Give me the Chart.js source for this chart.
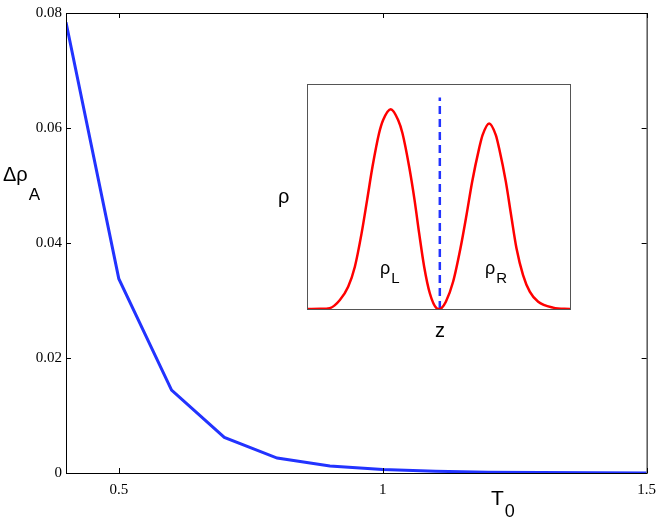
<!DOCTYPE html>
<html>
<head>
<meta charset="utf-8">
<script src="https://cdn.jsdelivr.net/npm/chart.js@4/dist/chart.umd.min.js"></script>
<style>
    html, body { margin: 0; padding: 0; background: #fff; }
    #wrap { position: relative; width: 664px; height: 525px; }
    #mainChart { position: absolute; left: 0; top: 0; }
    #insetChart { position: absolute; left: 260px; top: 78px; }
</style>
</head>
<body>
<div id="wrap">
    <canvas id="mainChart" width="664" height="525"></canvas>
    <canvas id="insetChart" width="320" height="270"></canvas>
</div>
<script>
// --- DATA ---
const temps = [0.4, 0.5, 0.6, 0.7, 0.8, 0.9, 1.0, 1.1, 1.2, 1.3, 1.4, 1.5];
const deltaRho = [0.0784, 0.0338, 0.0144, 0.0062, 0.0026, 0.0012, 0.0006, 0.0003, 0.00015, 0.00008, 0.00004, 0.00002];
const xTicks = [0.5, 1, 1.5];
const yTicks = [0, 0.02, 0.04, 0.06, 0.08];

// inset: density profile rho(z), arbitrary units
const insetZ = [-10.1, -9.1, -8.37, -7.6, -6.97, -6.46, -5.95, -5.53, -5.12, -4.62, -4.31, -3.73, -3.17, -2.84, -2.33, -1.92, -1.57, -1.19, -0.76, -0.25, 0,
                0.13, 0.46, 1.01, 1.57, 2.03, 2.46, 2.99, 3.25, 3.75, 4.26, 4.51, 5.02, 5.42, 5.83, 6.33, 6.84, 7.48, 8.62, 9.9];
const insetRho = [0, 0.001, 0.004, 0.04, 0.099, 0.188, 0.336, 0.484, 0.632, 0.781, 0.84, 0.888, 0.84, 0.781, 0.632, 0.484, 0.336, 0.188, 0.07, 0.004, 0,
                  0.004, 0.032, 0.121, 0.27, 0.418, 0.566, 0.714, 0.773, 0.825, 0.773, 0.714, 0.566, 0.418, 0.27, 0.151, 0.077, 0.032, 0.006, 0];
const splitZ = [0, 0];
const splitRho = [0, 0.94];

// --- HELPERS ---
const serif = '"Liberation Serif", "DejaVu Serif", serif';
const sans = '"Liberation Sans", Arial, sans-serif';

const drawSub = (ctx, x, y, main, sub, size, subSize, dy) => {
    ctx.font = `${size}px ${sans}`;
    ctx.fillText(main, x, y);
    const w = ctx.measureText(main).width;
    ctx.font = `${subSize}px ${sans}`;
    ctx.fillText(sub, x + w + 1, y + dy);
};

const frameTicks = {
    id: 'frameTicks',
    afterDraw(chart) {
        const { ctx, chartArea: a, scales } = chart;
        ctx.save();
        ctx.strokeStyle = '#000';
        ctx.lineWidth = 1;
        ctx.strokeRect(a.left + 0.5, a.top + 0.5, a.right - a.left, a.bottom - a.top);
        ctx.beginPath();
        xTicks.forEach(v => {
            const px = Math.round(scales.x.getPixelForValue(v)) + 0.5;
            ctx.moveTo(px, a.bottom); ctx.lineTo(px, a.bottom - 5);
            ctx.moveTo(px, a.top); ctx.lineTo(px, a.top + 5);
        });
        yTicks.forEach(v => {
            const py = Math.round(scales.y.getPixelForValue(v)) + 0.5;
            ctx.moveTo(a.left, py); ctx.lineTo(a.left + 5, py);
            ctx.moveTo(a.right, py); ctx.lineTo(a.right - 5, py);
        });
        ctx.stroke();

        ctx.fillStyle = '#000';
        ctx.textBaseline = 'alphabetic';
        drawSub(ctx, 3, 181, '\u0394\u03c1', 'A', 20, 17, 19);
        drawSub(ctx, 491, 505, 'T', '0', 21, 18, 12);
        ctx.restore();
    }
};

const insetDecor = {
    id: 'insetDecor',
    beforeDraw(chart) {
        const { ctx, chartArea: a } = chart;
        ctx.save();
        ctx.fillStyle = '#fff';
        ctx.fillRect(a.left, a.top, a.right - a.left, a.bottom - a.top);
        ctx.restore();
    },
    afterDraw(chart) {
        const { ctx, chartArea: a } = chart;
        ctx.save();
        ctx.strokeStyle = '#555';
        ctx.lineWidth = 1;
        ctx.strokeRect(a.left + 0.5, a.top + 0.5, a.right - a.left, a.bottom - a.top);
        ctx.fillStyle = '#000';
        ctx.font = `20px ${sans}`;
        ctx.fillText('\u03c1', 18, 125);
        drawSub(ctx, 120, 196, '\u03c1', 'L', 18, 15, 9);
        drawSub(ctx, 225, 196, '\u03c1', 'R', 18, 15, 9);
        ctx.font = `20px ${sans}`;
        ctx.textAlign = 'center';
        ctx.fillText('z', 180, 259);
        ctx.restore();
    }
};

// --- MAIN CHART ---
new Chart(document.getElementById('mainChart'), {
    type: 'line',
    data: {
        datasets: [{
            data: temps.map((t, i) => ({ x: t, y: deltaRho[i] })),
            borderColor: '#2233ff',
            borderWidth: 3,
            pointRadius: 0,
            tension: 0,
            fill: false
        }]
    },
    options: {
        responsive: false,
        animation: false,
        layout: { padding: { left: 0, right: 14, top: 13, bottom: 0 } },
        plugins: { legend: { display: false }, tooltip: { enabled: false } },
        scales: {
            x: {
                type: 'linear', min: 0.4, max: 1.5,
                afterBuildTicks: s => { s.ticks = xTicks.map(v => ({ value: v })); },
                afterFit: s => { s.height = 52; },
                grid: { display: false, drawTicks: false },
                border: { display: false },
                ticks: {
                    padding: 8, color: '#000', maxRotation: 0,
                    font: { family: serif, size: 15 },
                    callback: v => String(v)
                }
            },
            y: {
                type: 'linear', min: 0, max: 0.08,
                afterBuildTicks: s => { s.ticks = yTicks.map(v => ({ value: v })); },
                afterFit: s => { s.width = 66; },
                grid: { display: false, drawTicks: false },
                border: { display: false },
                ticks: {
                    padding: 4, color: '#000',
                    font: { family: serif, size: 15 },
                    callback: v => v === 0 ? '0' : v.toFixed(2)
                }
            }
        }
    },
    plugins: [frameTicks]
});

// --- INSET CHART ---
new Chart(document.getElementById('insetChart'), {
    type: 'line',
    data: {
        datasets: [{
            data: insetZ.map((z, i) => ({ x: z, y: insetRho[i] })),
            borderColor: '#ff0000',
            borderWidth: 2.5,
            pointRadius: 0,
            cubicInterpolationMode: 'monotone',
            fill: false
        }, {
            data: splitZ.map((z, i) => ({ x: z, y: splitRho[i] })),
            borderColor: '#2233ff',
            borderWidth: 2.5,
            borderDash: [8, 5],
            pointRadius: 0,
            fill: false
        }]
    },
    options: {
        responsive: false,
        animation: false,
        layout: { padding: { left: 47, right: 10, top: 6, bottom: 39 } },
        plugins: { legend: { display: false }, tooltip: { enabled: false } },
        scales: {
            x: { type: 'linear', min: -10.1, max: 9.9, display: false },
            y: { type: 'linear', min: 0, max: 1, display: false }
        }
    },
    plugins: [insetDecor]
});
</script>
</body>
</html>
